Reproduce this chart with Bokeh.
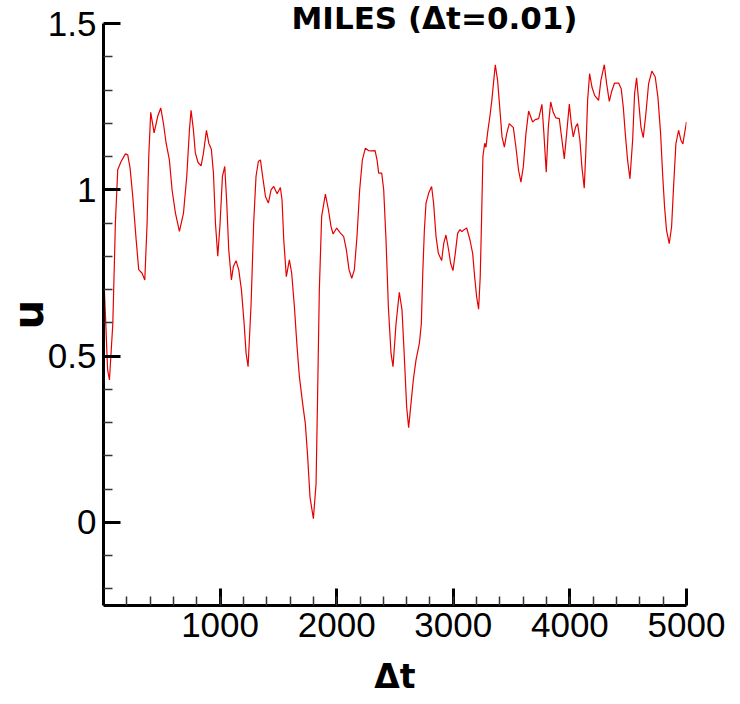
from bokeh.plotting import figure
from bokeh.models import Range1d, FixedTicker, NumeralTickFormatter
from bokeh.embed import file_html
from bokeh.resources import INLINE

# ---- data ----
steps = [0, 17, 35, 51, 80, 102, 122, 151, 188, 208, 228, 251, 280, 302, 331, 354, 374, 388, 405, 434,
         465, 491, 514, 537, 565, 588, 617, 651, 686, 714, 737, 751, 771, 788, 811, 837, 857, 883, 903, 925,
         943, 960, 980, 1000, 1020, 1040, 1057, 1074, 1097, 1114, 1137, 1160, 1183, 1206, 1223, 1240,
         1266, 1288, 1308, 1328, 1346, 1365, 1389, 1414, 1437, 1460, 1489, 1517, 1531, 1546, 1568, 1594,
         1614, 1637, 1660, 1680, 1708, 1731, 1751, 1771, 1800, 1823, 1837, 1851, 1871, 1903, 1929, 1951,
         1969, 2000, 2029, 2060, 2083, 2106, 2129, 2151, 2174, 2197, 2220, 2246, 2272, 2300, 2329, 2346,
         2360, 2386, 2403, 2423, 2443, 2466, 2483,
         2509, 2537, 2560, 2580, 2600, 2617, 2637, 2657, 2680, 2709, 2726, 2738, 2752, 2766, 2789, 2814,
         2831, 2852, 2872, 2900, 2918, 2937, 2960, 2977, 2997, 3017, 3037, 3057, 3075, 3092, 3115, 3143,
         3166, 3183, 3200, 3217, 3231, 3243, 3254, 3269, 3280, 3294, 3314, 3331, 3360, 3380, 3400, 3418,
         3438, 3458, 3480, 3515, 3537, 3560, 3580, 3600, 3623, 3646, 3680, 3703, 3732, 3760, 3777, 3797,
         3815, 3835, 3857, 3880, 3909, 3932, 3952, 3972, 3995, 4012, 4029, 4049, 4066, 4086, 4103, 4123,
         4137, 4152, 4169, 4189, 4212, 4246, 4266, 4295, 4315, 4338, 4360, 4383, 4418, 4440, 4458, 4475,
         4495, 4515, 4538, 4555, 4572, 4589, 4609, 4629, 4652, 4675, 4703, 4732, 4755, 4778, 4795, 4812,
         4829, 4852, 4872, 4889, 4909, 4932, 4952, 4969, 4983, 5000]

u_values = [0.76, 0.62, 0.46, 0.428, 0.598, 0.90, 1.06, 1.085, 1.108, 1.105, 1.065, 0.98, 0.85, 0.76, 0.749,
            0.729, 0.90, 1.10, 1.233, 1.171, 1.221, 1.246, 1.20, 1.14, 1.09, 1.0, 0.93, 0.875, 0.93, 1.04,
            1.18, 1.239, 1.18, 1.11, 1.082, 1.072, 1.11, 1.179, 1.14, 1.122, 1.05, 0.90, 0.80, 0.90, 1.04,
            1.07, 0.96, 0.82, 0.729, 0.769, 0.787, 0.759, 0.699, 0.598, 0.508, 0.468,
            0.659, 0.90, 1.04, 1.085, 1.09, 1.04, 0.98, 0.96, 1.0, 1.01, 0.988, 1.007, 0.97, 0.849, 0.739,
            0.789, 0.749, 0.649, 0.528, 0.438, 0.357, 0.297, 0.197, 0.076, 0.011, 0.116, 0.398, 0.699, 0.92,
            0.987, 0.94, 0.89, 0.867, 0.885, 0.871, 0.859, 0.819, 0.759, 0.734, 0.759, 0.859, 1.0, 1.09,
            1.125, 1.118, 1.117, 1.118, 1.09, 1.05, 1.05, 1.0, 0.849, 0.649, 0.508, 0.468,
            0.598, 0.692, 0.639, 0.498, 0.347, 0.285, 0.357, 0.428, 0.488, 0.538, 0.598, 0.749, 0.879, 0.96,
            0.99, 1.01, 0.96, 0.859, 0.809, 0.787, 0.839, 0.864, 0.819, 0.779, 0.757, 0.809, 0.869, 0.88,
            0.874, 0.88, 0.885, 0.849, 0.809, 0.739, 0.679, 0.641, 0.739, 0.92, 1.10, 1.14, 1.128, 1.171,
            1.221, 1.271, 1.376, 1.329, 1.239, 1.159, 1.128, 1.169, 1.199, 1.187, 1.128, 1.058, 1.023,
            1.068, 1.169, 1.237, 1.204, 1.211, 1.214, 1.257, 1.169, 1.053, 1.189, 1.264, 1.233, 1.216,
            1.214, 1.149, 1.093, 1.169, 1.258, 1.199, 1.159, 1.189, 1.199, 1.149, 1.068, 1.005, 1.118,
            1.269, 1.349, 1.309, 1.284, 1.269, 1.329, 1.376, 1.319, 1.266, 1.298, 1.321, 1.321, 1.304,
            1.248, 1.169, 1.088, 1.033, 1.149, 1.29, 1.337, 1.269, 1.189, 1.157, 1.23, 1.319, 1.357, 1.339,
            1.278, 1.169, 1.048, 0.948, 0.878, 0.838, 0.888, 1.008, 1.138, 1.179, 1.149, 1.138, 1.169, 1.204]

x_major_ticks = [1000, 2000, 3000, 4000, 5000]
x_minor_ticks = list(range(200, 5000, 200))
y_major_ticks = [0, 0.5, 1, 1.5]
y_minor_ticks = [-0.2, -0.1, 0.1, 0.2, 0.3, 0.4, 0.6, 0.7, 0.8, 0.9, 1.1, 1.2, 1.3, 1.4]

title_text = "MILES (\u0394t=0.01)"
x_label = "\u0394t"
y_label = "u"

p = figure(frame_width=583, frame_height=582, title=title_text,
           x_range=Range1d(0, 5000), y_range=Range1d(-0.25, 1.5),
           output_backend="svg", toolbar_location=None,
           min_border_left=97, min_border_right=44, min_border_top=23, min_border_bottom=80)
p.outline_line_color = None
p.xgrid.visible = False
p.ygrid.visible = False
p.background_fill_color = "white"
p.border_fill_color = "white"

# title overlaps the top of the frame, shifted right of centre as in the reference
p.title.align = "left"
p.title.offset = 188
p.title.standoff = -25
p.title.text_font = "DejaVu Sans"
p.title.text_font_style = "bold"
p.title.text_font_size = "31px"
p.title.text_color = "black"

p.line(steps, u_values, line_color="#e60000", line_width=1.2)

for ax in (p.xaxis[0], p.yaxis[0]):
    ax.axis_line_width = 3
    ax.axis_line_color = "black"
    ax.major_tick_in = 17
    ax.major_tick_out = 0
    ax.major_tick_line_width = 3
    ax.major_tick_line_color = "black"
    ax.minor_tick_in = 9
    ax.minor_tick_out = 0
    ax.minor_tick_line_width = 1.5
    ax.minor_tick_line_color = "#333333"
    ax.major_label_text_font = "Liberation Sans"
    ax.major_label_text_font_size = "35px"
    ax.major_label_text_color = "black"
    ax.axis_label_text_font = "DejaVu Sans"
    ax.axis_label_text_font_style = "bold"
    ax.axis_label_text_color = "black"

p.xaxis.ticker = FixedTicker(ticks=x_major_ticks, minor_ticks=x_minor_ticks)
p.yaxis.ticker = FixedTicker(ticks=y_major_ticks, minor_ticks=y_minor_ticks)
p.xaxis.formatter = NumeralTickFormatter(format="0")
p.yaxis.formatter = NumeralTickFormatter(format="0.[0]")

p.xaxis.major_label_standoff = 7
p.yaxis.major_label_standoff = 7
p.xaxis.axis_label = x_label
p.xaxis.axis_label_text_font_size = "33px"
p.xaxis.axis_label_standoff = 17
p.yaxis.axis_label = y_label
p.yaxis.axis_label_text_font_size = "42px"
p.yaxis.axis_label_standoff = -8

open("out.html", "w").write(file_html(p, INLINE))
